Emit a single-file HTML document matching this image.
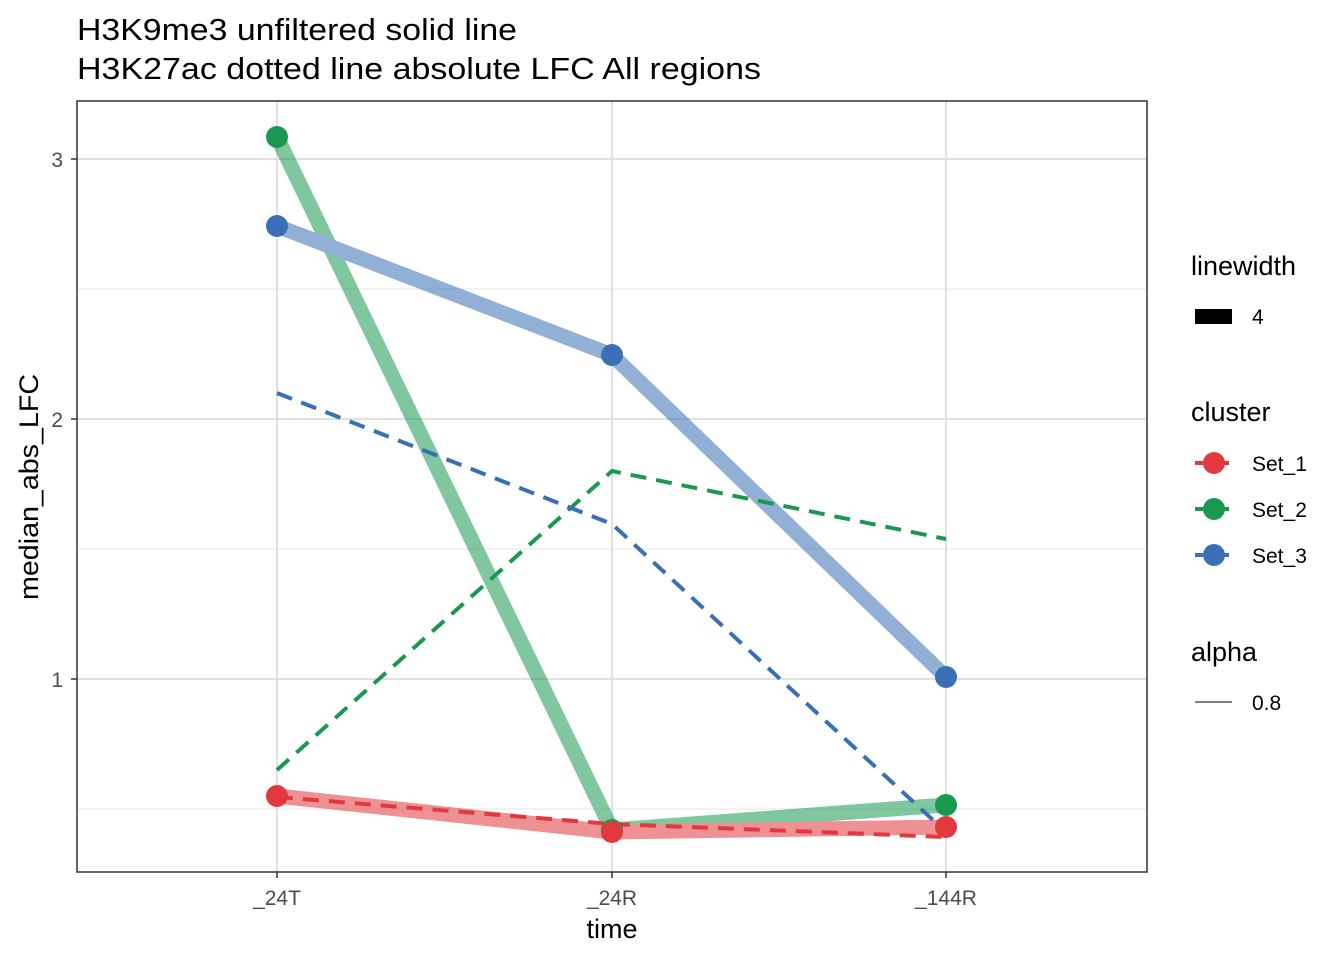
<!DOCTYPE html>
<html><head><style>body{margin:0;background:#fff}svg{display:block}text{font-family:"Liberation Sans",Arial,sans-serif}</style></head><body>
<svg width="1344" height="960" viewBox="0 0 1344 960" xmlns="http://www.w3.org/2000/svg">
<rect width="1344" height="960" fill="#fff"/>
<text x="77" y="40" font-size="31" textLength="440" lengthAdjust="spacingAndGlyphs" fill="#000">H3K9me3 unfiltered solid line</text>
<text x="77" y="79" font-size="31" textLength="684" lengthAdjust="spacingAndGlyphs" fill="#000">H3K27ac dotted line absolute LFC All regions</text>
<g stroke="#ebebeb" stroke-width="1.2">
<line x1="77" x2="1147" y1="289" y2="289"/><line x1="77" x2="1147" y1="549" y2="549"/><line x1="77" x2="1147" y1="809" y2="809"/>
</g>
<g stroke="#e0e0e0" stroke-width="2">
<line x1="77" x2="1147" y1="159" y2="159"/><line x1="77" x2="1147" y1="419" y2="419"/><line x1="77" x2="1147" y1="679" y2="679"/>
<line x1="277" x2="277" y1="101" y2="872"/><line x1="612" x2="612" y1="101" y2="872"/><line x1="946" x2="946" y1="101" y2="872"/>
</g>
<g fill="none" stroke-linejoin="round" stroke-width="15" opacity="0.55">
<polyline points="277,137 612,830 946,805" stroke="#1a9850"/>
<polyline points="277,226 612,355 946,677" stroke="#3a6fb5"/>
<polyline points="277,796 612,832 946,827" stroke="#e0393e"/>
</g>
<g fill="none" stroke-width="4" stroke-dasharray="16,10">
<polyline points="277,797 612,824 946,837" stroke="#e0393e"/>
<polyline points="277,770 612,471 946,539" stroke="#1a9850"/>
<polyline points="277,393 612,524 946,832" stroke="#3a6fb5"/>
</g>
<g>
<circle cx="277" cy="137" r="11" fill="#1a9850"/><circle cx="612" cy="830" r="11" fill="#1a9850"/><circle cx="946" cy="805" r="11" fill="#1a9850"/>
<circle cx="277" cy="226" r="11" fill="#3a6fb5"/><circle cx="612" cy="355" r="11" fill="#3a6fb5"/><circle cx="946" cy="677" r="11" fill="#3a6fb5"/>
<circle cx="277" cy="796" r="11" fill="#e0393e"/><circle cx="612" cy="832" r="11" fill="#e0393e"/><circle cx="946" cy="827" r="11" fill="#e0393e"/>
</g>
<rect x="77" y="101" width="1070" height="771" fill="none" stroke="#333" stroke-width="1.5"/>
<g font-size="21" fill="#4d4d4d" text-anchor="end">
<text x="63" y="167">3</text><text x="63" y="427">2</text><text x="63" y="687">1</text>
</g>
<g stroke="#333" stroke-width="1.5">
<line x1="71" x2="77" y1="159" y2="159"/><line x1="71" x2="77" y1="419" y2="419"/><line x1="71" x2="77" y1="679" y2="679"/>
<line x1="277" x2="277" y1="872" y2="878"/><line x1="612" x2="612" y1="872" y2="878"/><line x1="946" x2="946" y1="872" y2="878"/>
</g>
<g font-size="21" fill="#4d4d4d" text-anchor="middle">
<text x="277" y="905">_24T</text><text x="612" y="905">_24R</text><text x="946" y="905">_144R</text>
</g>
<text x="612" y="938" font-size="27" text-anchor="middle">time</text>
<text transform="translate(38,487) rotate(-90)" font-size="27" textLength="226" lengthAdjust="spacingAndGlyphs" text-anchor="middle">median_abs_LFC</text>
<g font-size="27"><text x="1191" y="275">linewidth</text><text x="1191" y="421">cluster</text><text x="1191" y="661">alpha</text></g>
<rect x="1195" y="309" width="37" height="15" fill="#000"/>
<g font-size="21"><text x="1252" y="324">4</text><text x="1252" y="471">Set_1</text><text x="1252" y="517">Set_2</text><text x="1252" y="563">Set_3</text><text x="1252" y="710">0.8</text></g>
<g stroke-width="4" stroke-dasharray="8,5">
<line x1="1195" x2="1232" y1="463" y2="463" stroke="#e0393e"/>
<line x1="1195" x2="1232" y1="509" y2="509" stroke="#1a9850"/>
<line x1="1195" x2="1232" y1="555" y2="555" stroke="#3a6fb5"/>
</g>
<circle cx="1214" cy="463" r="11" fill="#e0393e"/><circle cx="1214" cy="509" r="11" fill="#1a9850"/><circle cx="1214" cy="555" r="11" fill="#3a6fb5"/>
<line x1="1195" x2="1232" y1="702" y2="702" stroke="#555" stroke-width="1.5"/>
</svg>
</body></html>
